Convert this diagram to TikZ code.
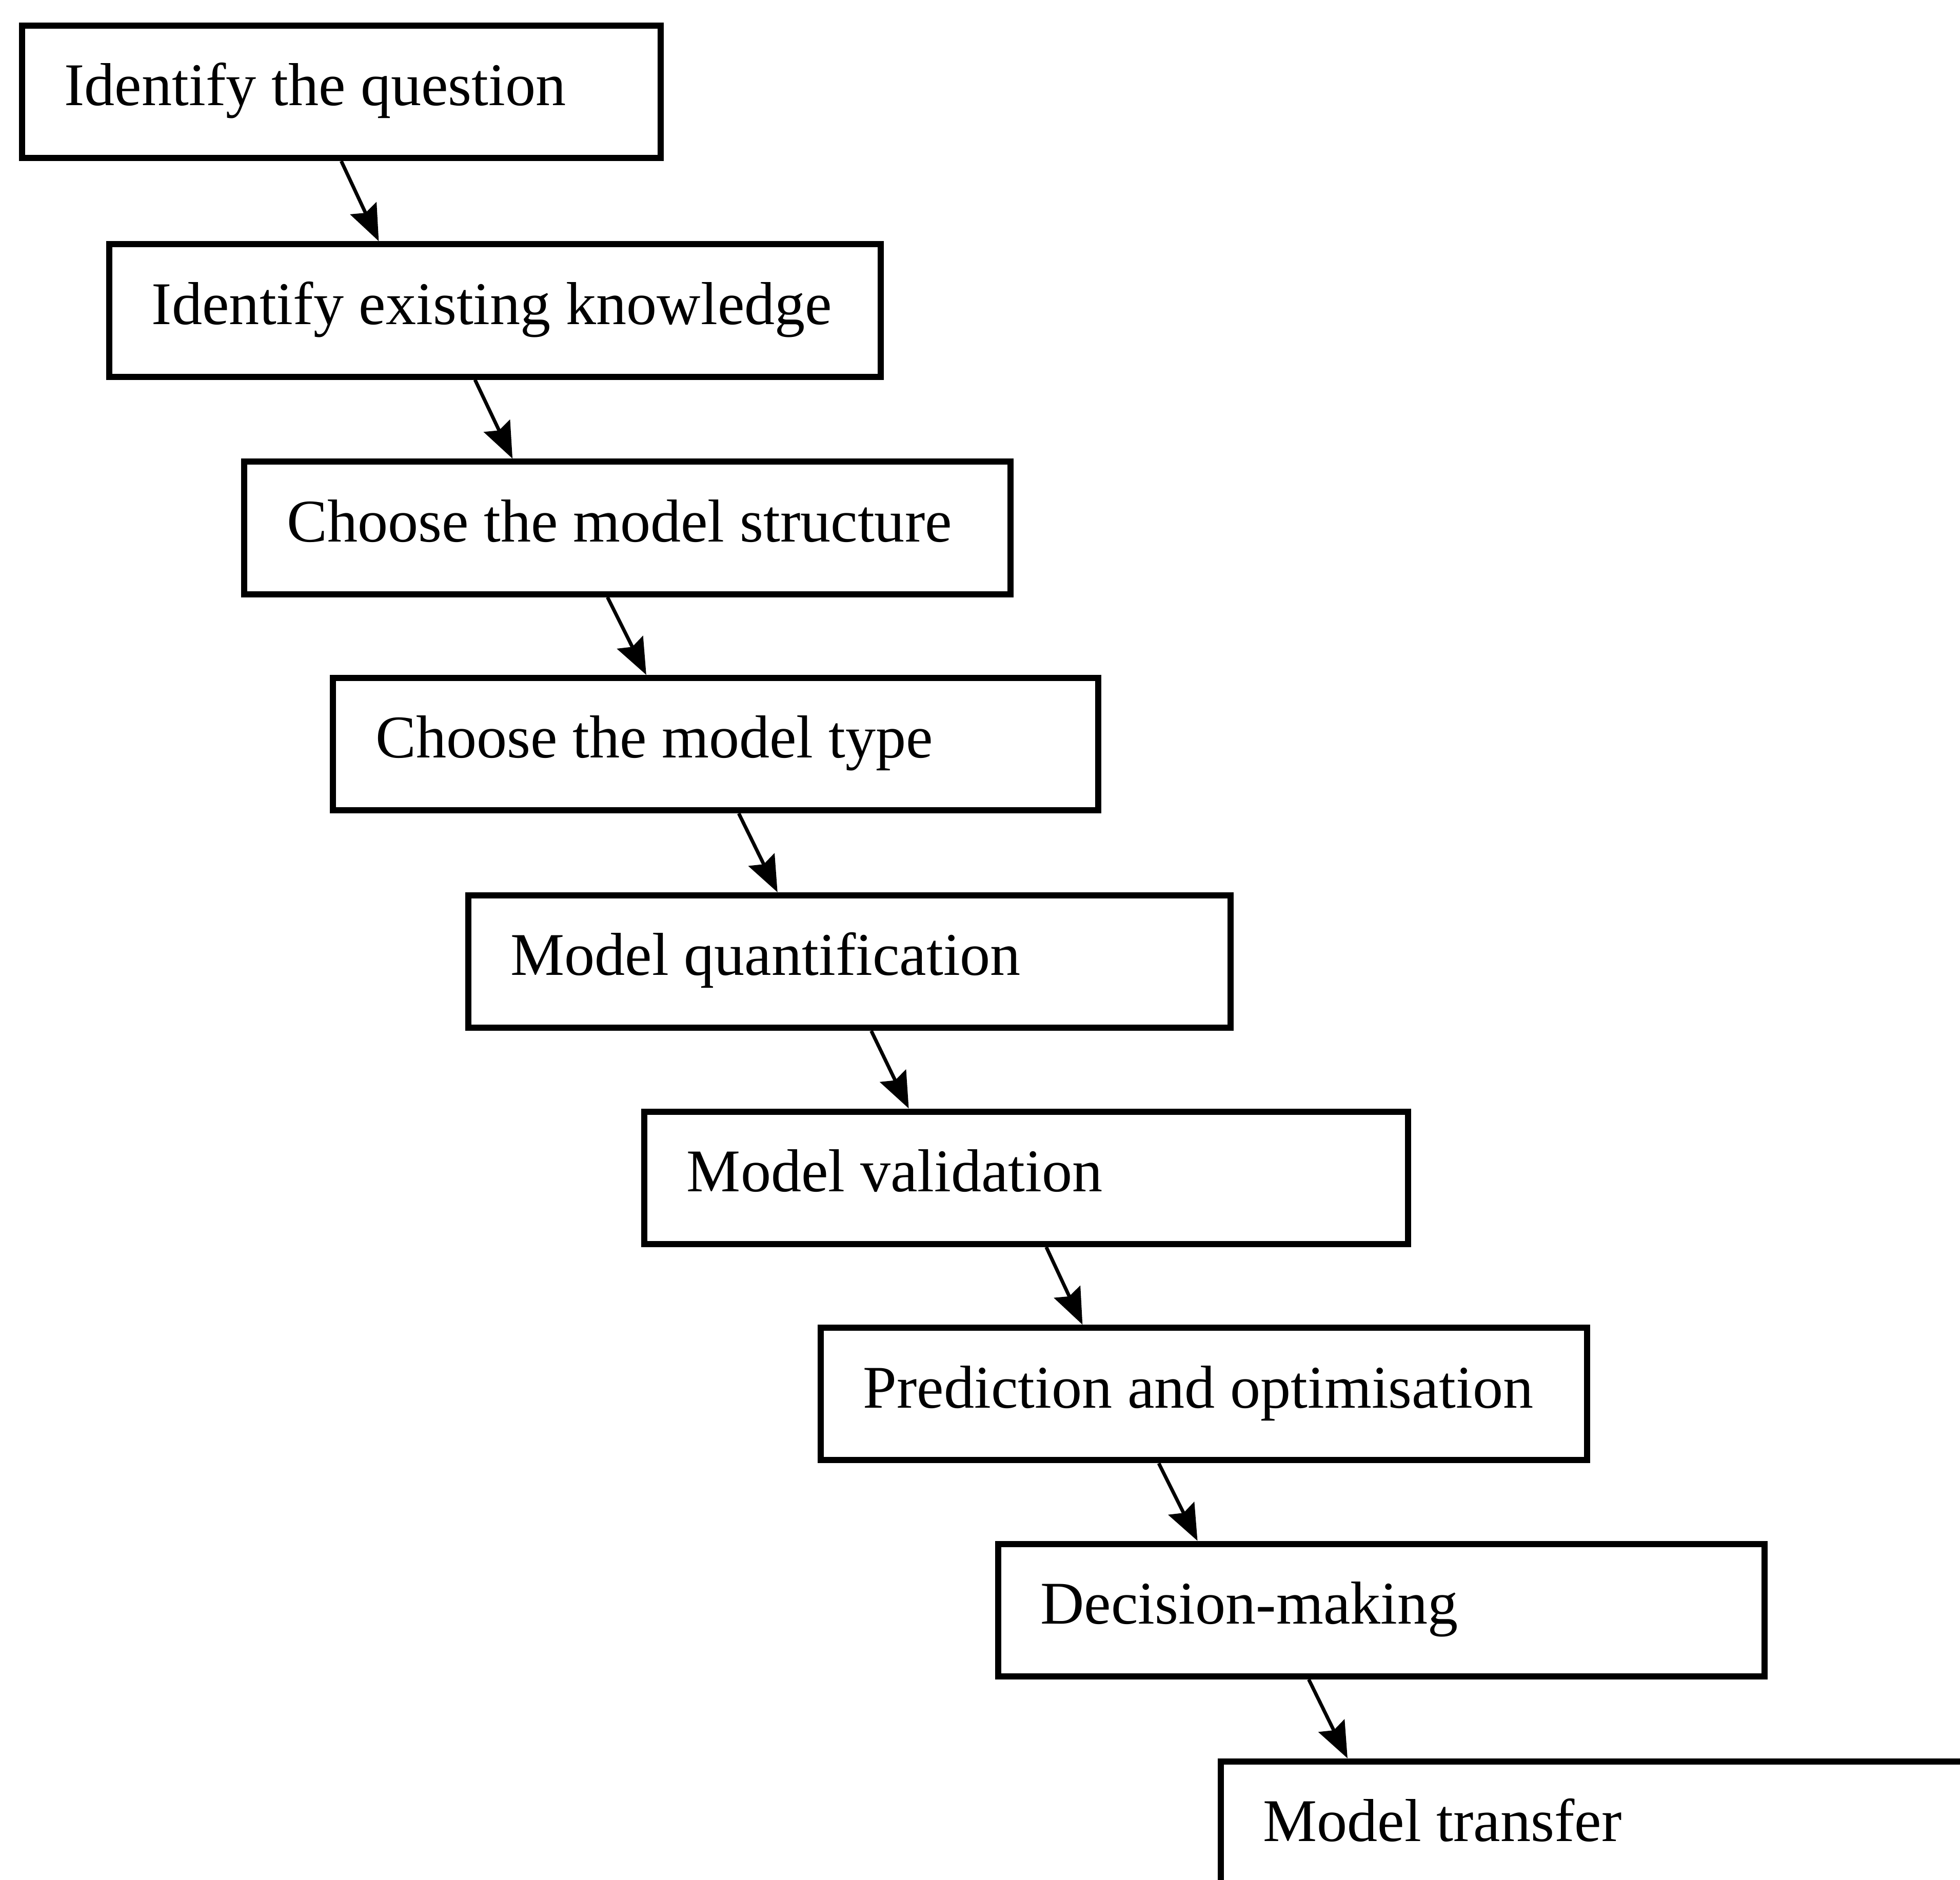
\documentclass[tikz,border=0pt]{standalone}
\usepackage{fontspec}
\setmainfont{Liberation Serif}
\usetikzlibrary{arrows.meta,calc}
\newcommand{\stagefont}{\fontsize{13.8}{16.5}\selectfont\hyphenpenalty 10000\relax}
\tikzset{
    box color/.style={black},
    stage box/.style={draw,box color,line width=1.4pt,anchor=north west,
        inner xsep=0.34cm,inner ysep=0pt,text height=0.64cm,text depth=0.42cm,
        align=left,text width=#1,execute at begin node={\spaceskip 0pt\xspaceskip 0pt\relax}},
    stage box/.default=5.45cm,
    arr/.style={->,>={Stealth[length=2.9mm,width=2.3mm,inset=0.4mm]},line width=0.8pt},
}
\tikzstyle{every node}=[font=\stagefont]

\begin{document}
\begin{tikzpicture}
        \clip (0,0) rectangle (15.68,-15.04);
        \fill[white] (0,0) rectangle (15.68,-15.04);
        % the nine stages, each one step down and to the right
        \node[stage box=4.43cm] (question) at (0.15,-0.18) {Identify the question};
        \node[stage box=5.49cm] (knowledge) at (0.85,-1.93) {Identify existing knowledge};
        \node[stage box] (structure) at (1.93,-3.67) {Choose the model structure};
        \node[stage box=5.44cm] (type) at (2.64,-5.40) {Choose the model type};
        \node[stage box=5.42cm] (quant) at (3.72,-7.14) {Model quantification};
        \node[stage box=5.43cm] (valid) at (5.13,-8.87) {Model validation};
        \node[stage box] (predict) at (6.54,-10.60) {Prediction and optimisation};
        \node[stage box] (decide) at (7.96,-12.33) {Decision-making};
        \node[stage box] (transfer) at (9.74,-14.07) {Model transfer};
        \foreach \a/\b/\sa/\sb in {question/knowledge/2.58/2.18, knowledge/structure/2.95/2.17,
            structure/type/2.93/2.53, type/quant/3.27/2.50, quant/valid/3.25/2.14,
            valid/predict/3.24/2.12, predict/decide/2.73/1.62, decide/transfer/2.51/1.04}
            \draw[arr] ($(\a.south west)+(\sa,0)$) -- ($(\b.north west)+(\sb,0)$);
    \end{tikzpicture}
\end{document}
